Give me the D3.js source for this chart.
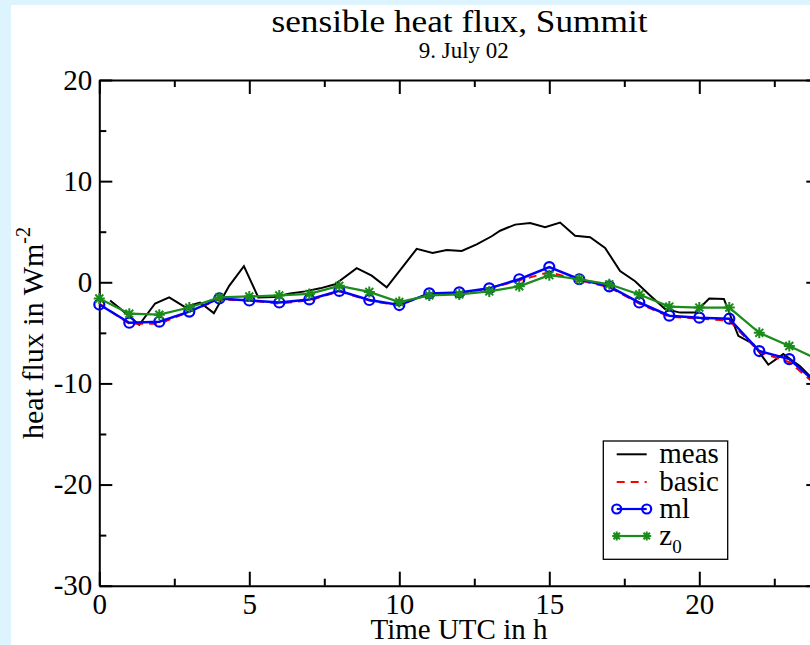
<!DOCTYPE html>
<html><head><meta charset="utf-8">
<script src="https://cdn.jsdelivr.net/npm/d3@7"></script>
<style>
html,body{margin:0;padding:0;background:#ddf4ff;}
svg{display:block;}
svg text{font-family:"Liberation Serif","Times New Roman",serif !important;fill:#000;}
</style></head>
<body>
<svg id="c" width="810" height="645"></svg>
<script>
// ---- data ----
const title = "sensible heat flux, Summit";
const subtitle = "9. July 02";
const xLabel = "Time UTC in h";
const hours = [0,1,2,3,4,5,6,7,8,9,10,11,12,13,14,15,16,17,18,19,20,21,22,23,24];
const basic = [-2.1,-4.1,-4.1,-2.9,-1.7,-1.8,-2.1,-1.8,-0.9,-1.8,-2.3,-1.1,-1.1,-0.6,0.2,1.0,0.2,-0.5,-2.1,-3.4,-3.6,-3.8,-6.9,-7.9,-10.4];
const ml    = [-2.2,-4.0,-3.9,-2.9,-1.6,-1.8,-2.0,-1.7,-0.85,-1.75,-2.25,-1.1,-1.0,-0.6,0.3,1.5,0.3,-0.4,-2.0,-3.3,-3.5,-3.6,-6.8,-7.6,-10.2];
const z0    = [-1.6,-3.1,-3.2,-2.5,-1.5,-1.4,-1.3,-1.15,-0.35,-0.95,-1.95,-1.3,-1.2,-0.9,-0.4,0.7,0.3,-0.2,-1.2,-2.4,-2.5,-2.5,-5.0,-6.3,-7.7];
const measT = [0.36,0.86,1.33,1.86,2.33,2.86,3.36,3.82,4.33,4.82,5.3,5.83,6.36,6.86,7.36,7.86,8.58,9.08,9.58,10.08,10.58,11.11,11.58,12.08,12.58,13.08,13.36,13.86,14.36,14.86,15.36,15.86,16.36,16.86,17.36,17.86,18.36,18.86,19.36,19.86,20.33,20.82,21.3,21.8,22.3,22.8,23.36,23.86];
const measV = [-1.8,-3.0,-4.2,-2.1,-1.5,-2.45,-2.0,-3.05,-0.35,1.6,-1.5,-1.45,-1.1,-0.9,-0.6,-0.2,1.4,0.65,-0.5,1.4,3.3,2.9,3.2,3.1,3.75,4.55,5.1,5.7,5.85,5.45,5.9,4.6,4.45,3.4,1.1,0.1,-1.3,-2.65,-3.0,-3.0,-1.6,-1.65,-5.3,-6.1,-8.15,-7.1,-8.3,-9.8];
const xMajor = [0,5,10,15,20];
const xMinor = [2.5,7.5,12.5,17.5,22.5];
const yMajor = [-30,-20,-10,0,10,20];
const yMinor = [-25,-15,-5,5,15];
const legendNames = ["meas","basic","ml","z"];

// ---- layout ----
const svg = d3.select("#c");
svg.append("rect").attr("x",11).attr("y",5).attr("width",810).attr("height",645).attr("fill","#fff");

const x = d3.scaleLinear().domain([0,24]).range([99.3,819.3]);
const y = d3.scaleLinear().domain([-30,20]).range([585.7,80]);
const X0 = x.range()[0], X1 = x.range()[1], Y0 = y.range()[0], Y1 = y.range()[1];
const fmt = d => String(d);

function styleAxis(g){
  g.attr("font-family",null).attr("font-size",null);
  g.selectAll("path").attr("stroke","#000").attr("stroke-width",2);
  g.selectAll("line").attr("stroke","#000").attr("stroke-width",2);
  g.selectAll("text").attr("font-size",29).style("font-family","'Liberation Serif', serif").attr("fill","#000");
  return g;
}
// bottom
styleAxis(svg.append("g").attr("transform",`translate(0,${Y0})`)
  .call(d3.axisBottom(x).tickValues(xMajor).tickSize(-14).tickSizeOuter(0).tickPadding(8).tickFormat(fmt)));
styleAxis(svg.append("g").attr("transform",`translate(0,${Y0})`)
  .call(d3.axisBottom(x).tickValues(xMinor).tickSize(-7).tickSizeOuter(0).tickFormat(""))).select("path").remove();
// top
styleAxis(svg.append("g").attr("transform",`translate(0,${Y1})`)
  .call(d3.axisTop(x).tickValues(xMajor).tickSize(-14).tickSizeOuter(0).tickFormat("")));
styleAxis(svg.append("g").attr("transform",`translate(0,${Y1})`)
  .call(d3.axisTop(x).tickValues(xMinor).tickSize(-7).tickSizeOuter(0).tickFormat(""))).select("path").remove();
// left
styleAxis(svg.append("g").attr("transform",`translate(${X0},0)`)
  .call(d3.axisLeft(y).tickValues(yMajor).tickSize(-13).tickSizeOuter(0).tickPadding(7).tickFormat(fmt)));
styleAxis(svg.append("g").attr("transform",`translate(${X0},0)`)
  .call(d3.axisLeft(y).tickValues(yMinor).tickSize(-7).tickSizeOuter(0).tickFormat(""))).select("path").remove();
// right
styleAxis(svg.append("g").attr("transform",`translate(${X1},0)`)
  .call(d3.axisRight(y).tickValues(yMajor).tickSize(-13).tickSizeOuter(0).tickFormat("")));
styleAxis(svg.append("g").attr("transform",`translate(${X1},0)`)
  .call(d3.axisRight(y).tickValues(yMinor).tickSize(-7).tickSizeOuter(0).tickFormat(""))).select("path").remove();

// ---- series ----
const line = d3.line().x(d=>x(d[0])).y(d=>y(d[1]));
const measPts = measT.map((t,i)=>[t,measV[i]]);
const basicPts = hours.map((h,i)=>[h,basic[i]]);
const mlPts = hours.map((h,i)=>[h,ml[i]]);
const z0Pts = hours.map((h,i)=>[h,z0[i]]);

svg.append("path").attr("d",line(measPts)).attr("fill","none").attr("stroke","#000").attr("stroke-width",2);
svg.append("path").attr("d",line(basicPts)).attr("fill","none").attr("stroke","#ff0000").attr("stroke-width",2).attr("stroke-dasharray","8,6");
svg.append("path").attr("d",line(mlPts)).attr("fill","none").attr("stroke","#0000ff").attr("stroke-width",2.5);
svg.selectAll(".mlc").data(mlPts).enter().append("circle")
  .attr("cx",d=>x(d[0])).attr("cy",d=>y(d[1])).attr("r",5)
  .attr("fill","none").attr("stroke","#0000ff").attr("stroke-width",2.2);
const green = "#1a8c1a";
svg.append("path").attr("d",line(z0Pts)).attr("fill","none").attr("stroke",green).attr("stroke-width",2.2);
function star(cx,cy,r){
  const a=r*0.72;
  return `M${cx-r},${cy}L${cx+r},${cy}M${cx},${cy-r}L${cx},${cy+r}M${cx-a},${cy-a}L${cx+a},${cy+a}M${cx-a},${cy+a}L${cx+a},${cy-a}`;
}
svg.selectAll(".z0s").data(z0Pts).enter().append("path")
  .attr("d",d=>star(x(d[0]),y(d[1]),5.5)).attr("stroke",green).attr("stroke-width",2).attr("fill","none");

// ---- titles ----
svg.append("text").attr("x",459.5).attr("y",31.7).attr("text-anchor","middle").attr("font-size",32)
  .attr("textLength",376).attr("lengthAdjust","spacingAndGlyphs").text(title);
svg.append("text").attr("x",463.8).attr("y",58.3).attr("text-anchor","middle").attr("font-size",23).text(subtitle);
svg.append("text").attr("x",459).attr("y",639).attr("text-anchor","middle").attr("font-size",29).text(xLabel);
const yl = svg.append("text").attr("transform","translate(43,333) rotate(-90)").attr("text-anchor","middle").attr("font-size",30);
yl.append("tspan").text("heat flux in Wm");
yl.append("tspan").attr("font-size",20).attr("dy",-13).text("-2");

// ---- legend ----
const lg = svg.append("g");
lg.append("rect").attr("x",603.3).attr("y",441).attr("width",124.4).attr("height",118.3)
  .attr("fill","#fff").attr("stroke","#000").attr("stroke-width",1.3);
const ly = [463.3,491,518,545];
const lx0 = 616.7, lx1 = 646.7, tx = 659.3;
lg.append("line").attr("x1",lx0).attr("x2",lx1).attr("y1",ly[0]-9).attr("y2",ly[0]-9).attr("stroke","#000").attr("stroke-width",2);
lg.append("line").attr("x1",lx0).attr("x2",lx1).attr("y1",ly[1]-9).attr("y2",ly[1]-9).attr("stroke","#ff0000").attr("stroke-width",2).attr("stroke-dasharray","8,6");
lg.append("line").attr("x1",lx0).attr("x2",lx1).attr("y1",ly[2]-9).attr("y2",ly[2]-9).attr("stroke","#0000ff").attr("stroke-width",2.2);
[lx0,lx1].forEach(cx=>lg.append("circle").attr("cx",cx).attr("cy",ly[2]-9).attr("r",4.5).attr("fill","none").attr("stroke","#0000ff").attr("stroke-width",2.2));
lg.append("line").attr("x1",lx0).attr("x2",lx1).attr("y1",ly[3]-9).attr("y2",ly[3]-9).attr("stroke",green).attr("stroke-width",2.2);
[lx0,lx1].forEach(cx=>lg.append("path").attr("d",star(cx,ly[3]-9,4.5)).attr("stroke",green).attr("stroke-width",2).attr("fill","none"));
legendNames.forEach((n,i)=>{
  const t = lg.append("text").attr("x",tx).attr("y",ly[i]).attr("font-size",29).text(n);
  if(n==="z") t.append("tspan").attr("font-size",19).attr("dy",8).text("0");
});
</script>
</body></html>
